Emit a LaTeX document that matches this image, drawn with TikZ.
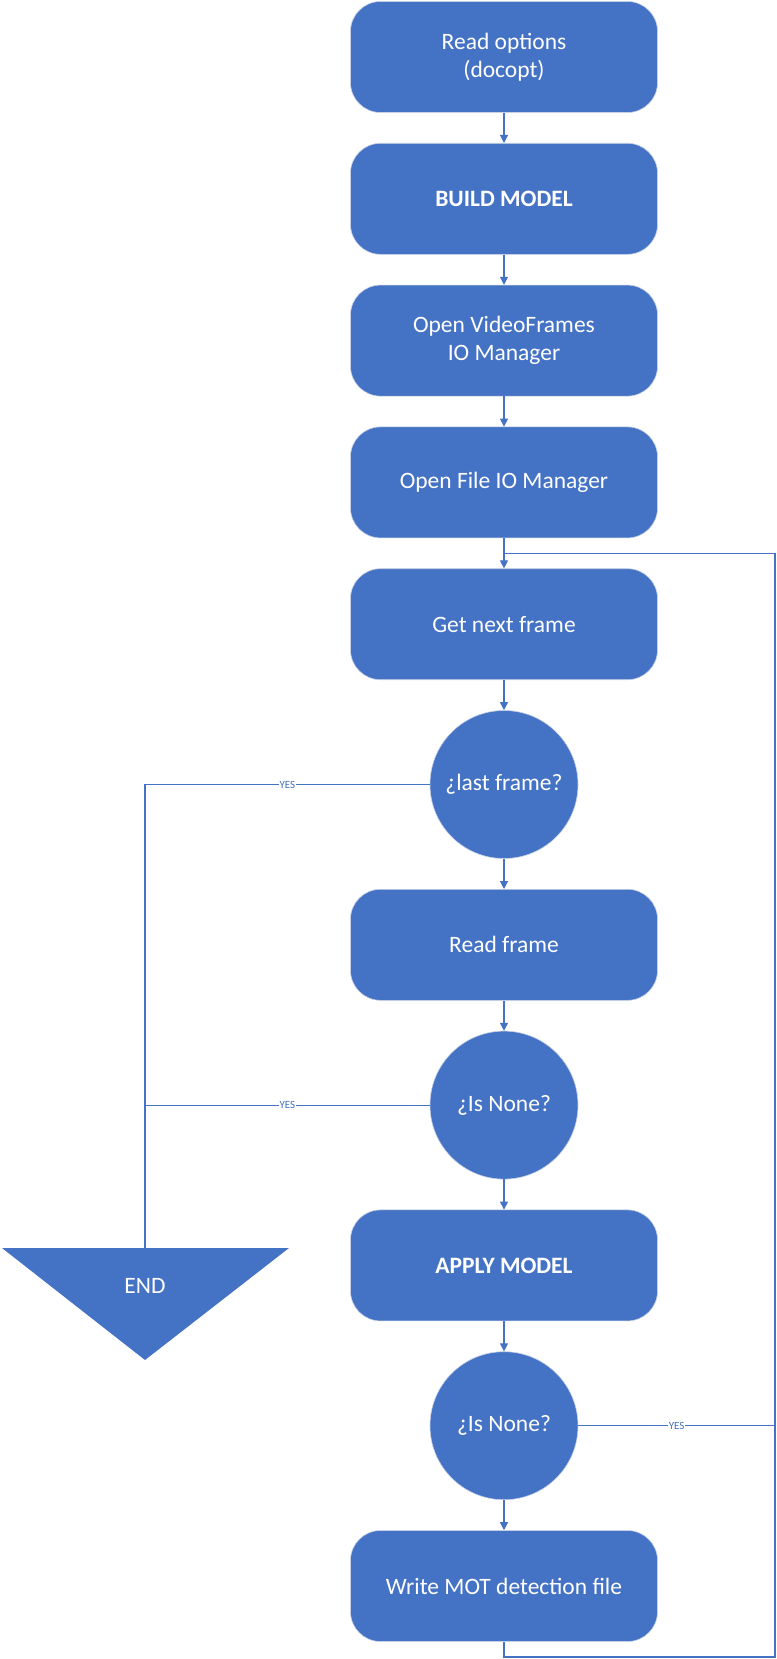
\documentclass[tikz,border=0pt]{standalone}
\usepackage{fontspec}
\setmainfont{Carlito}
\usepackage{tikz}
\usetikzlibrary{arrows.meta, positioning, calc}
\usepackage{xcolor}
\definecolor{boxblue}{HTML}{4472C4}
\definecolor{edgeblue}{HTML}{C5D0E6}

\begin{document}
\begin{tikzpicture}[x=1pt, y=1pt, node distance=30.2pt,
  stepbox/.style={rectangle, rounded corners=30pt, fill=boxblue, draw=edgeblue,
    line width=0.6pt, minimum width=307pt, minimum height=111pt, inner sep=0pt,
    text=white, align=center, font=\fontsize{23.5}{28.5}\selectfont},
  question/.style={circle, fill=boxblue, draw=edgeblue, line width=0.6pt,
    minimum size=148pt, inner sep=0pt, text=white, align=center,
    font=\fontsize{23.5}{28.5}\selectfont},
  flow/.style={draw=boxblue, line width=1.1pt},
  arrow/.style={flow, -{Triangle[length=8pt, width=8pt]}},
  yes/.style={fill=white, text=boxblue, inner sep=1pt, font=\fontsize{11}{12}\selectfont}]
\useasboundingbox (0,0) rectangle (776,-1659);

% main column
\node[stepbox] (options) at (504,-57) {Read options\\(docopt)};
\node[stepbox, below=of options] (build) {\textbf{BUILD MODEL}};
\node[stepbox, below=of build] (videoio) {Open VideoFrames\\IO Manager};
\node[stepbox, below=of videoio] (fileio) {Open File IO Manager};
\node[stepbox, below=of fileio] (getframe) {Get next frame};
\node[question, below=of getframe] (lastq) {¿last frame?};
\node[stepbox, below=of lastq] (readframe) {Read frame};
\node[question, below=of readframe] (noneq) {¿Is None?};
\node[stepbox, below=of noneq] (apply) {\textbf{APPLY MODEL}};
\node[question, below=of apply] (resq) {¿Is None?};
\node[stepbox, below=of resq] (writemot) {Write MOT detection file};

% END triangle
\coordinate (endtop) at (145,-1248);
\fill[boxblue] (2,-1248) -- (289,-1248) -- (145,-1360) -- cycle;
\node[text=white, font=\fontsize{23.5}{28.5}\selectfont] (end) at (145,-1286) {END};

% arrows down the column
\draw[arrow] (options) -- (build);
\draw[arrow] (build) -- (videoio);
\draw[arrow] (videoio) -- (fileio);
\draw[arrow] (fileio) -- (getframe);
\draw[arrow] (getframe) -- (lastq);
\draw[arrow] (lastq) -- (readframe);
\draw[arrow] (readframe) -- (noneq);
\draw[arrow] (noneq) -- (apply);
\draw[arrow] (apply) -- (resq);
\draw[arrow] (resq) -- (writemot);

% exits to END
\draw[flow] (lastq.west) -- node[yes]{YES} (lastq.west -| endtop) -- (endtop);
\draw[flow] (noneq.west) -- node[yes]{YES} (noneq.west -| endtop);

% loop back
\coordinate (join) at ($(fileio.south)!0.5!(getframe.north)$);
\coordinate (loopright) at (775,-1657);
\draw[flow] (writemot.south) |- (loopright) |- (join);
\draw[flow] (resq.east) -- node[yes]{YES} (resq.east -| loopright);
\end{tikzpicture}
\end{document}
